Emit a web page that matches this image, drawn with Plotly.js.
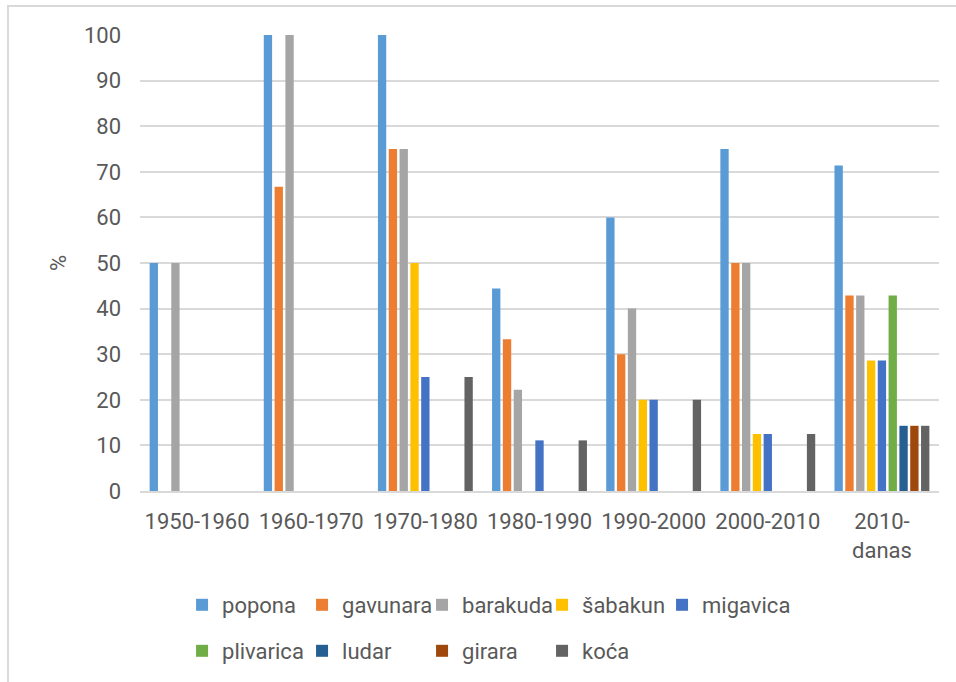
<!DOCTYPE html>
<html>
<head>
<meta charset="utf-8">
<script src="https://cdn.plot.ly/plotly-3.0.1.min.js"></script>
<style>
  html, body { margin: 0; padding: 0; background: #fff; overflow: hidden; }
  #frame { position: absolute; left: 7px; top: 5px; width: 1200px; height: 1200px;
           border: 2px solid #d9d9d9; box-sizing: border-box; pointer-events: none; }
  #chart { position: absolute; left: 0; top: 0; width: 956px; height: 682px; }
</style>
</head>
<body>
<div id="chart"></div>
<div id="frame"></div>
<script>
// categories (decades)
const categories = ["1950-1960", "1960-1970", "1970-1980", "1980-1990", "1990-2000", "2000-2010", "2010-<br>danas"];

// series values (%), null = no bar
const popona    = [50, 100, 100, 44.4, 60, 75, 71.4];
const gavunara  = [null, 66.7, 75, 33.3, 30, 50, 42.9];
const barakuda  = [50, 100, 75, 22.2, 40, 50, 42.9];
const sabakun   = [null, null, 50, null, 20, 12.5, 28.6];
const migavica  = [null, null, 25, 11.1, 20, 12.5, 28.6];
const plivarica = [null, null, null, null, null, null, 42.9];
const ludar     = [null, null, null, null, null, null, 14.3];
const girara    = [null, null, null, null, null, null, 14.3];
const koca      = [null, null, 25, 11.1, 20, 12.5, 14.3];

const seriesNames = ["popona", "gavunara", "barakuda", "šabakun", "migavica", "plivarica", "ludar", "girara", "koća"];
const seriesValues = [popona, gavunara, barakuda, sabakun, migavica, plivarica, ludar, girara, koca];
const seriesColors = ["#5B9BD5", "#ED7D31", "#A5A5A5", "#FFC000", "#4472C4", "#70AD47", "#255E91", "#9E480E", "#636363"];

const yTicks = [0, 10, 20, 30, 40, 50, 60, 70, 80, 90, 100];

const FONT = "Roboto, 'Open Sans', sans-serif";
const TXT = "#595959";

const traces = seriesNames.map((name, i) => ({
  type: "bar",
  name: name,
  x: categories,
  y: seriesValues[i],
  marker: { color: seriesColors[i], line: { width: 0 } },
  legend: i < 5 ? "legend" : "legend2",
  hoverinfo: "x+y+name"
}));

// invisible spacer legend entry so the first legend row is not clipped
traces.push({
  type: "bar", name: " ", x: [categories[0]], y: [0],
  visible: "legendonly",
  marker: { color: "rgba(0,0,0,0)", line: { width: 0 } },
  legend: "legend", hoverinfo: "skip"
});

const legendCommon = {
  orientation: "h",
  font: { family: FONT, size: 22, color: TXT },
  bgcolor: "rgba(0,0,0,0)",
  entrywidth: 75,
  entrywidthmode: "pixels",
  itemwidth: 30,
  xanchor: "left",
  yanchor: "middle",
  traceorder: "normal"
};

const layout = {
  width: 956,
  height: 682,
  margin: { l: 140, r: 17, t: 35, b: 190 },
  paper_bgcolor: "rgba(0,0,0,0)",
  plot_bgcolor: "#ffffff",
  font: { family: FONT, size: 22, color: TXT },
  showlegend: true,
  barmode: "group",
  bargap: 0.147,
  bargroupgap: 0.23,
  xaxis: {
    type: "category",
    showgrid: false,
    showline: true,
    linecolor: "#d9d9d9",
    linewidth: 2,
    ticks: "",
    tickfont: { family: FONT, size: 22, color: TXT },
    ticklabelstandoff: 10,
    automargin: false
  },
  yaxis: {
    range: [0, 100],
    tickvals: yTicks,
    ticktext: yTicks.map(String),
    showgrid: true,
    gridcolor: "#d9d9d9",
    gridwidth: 2,
    zeroline: false,
    showline: false,
    ticks: "",
    tickfont: { family: FONT, size: 22, color: TXT },
    ticklabelstandoff: 18,
    automargin: false,
    title: { text: "%", font: { family: FONT, size: 22, color: TXT }, standoff: 11 }
  },
  legend: Object.assign({}, legendCommon, { x: (182 - 140) / 798, y: (492 - 605) / 457 }),
  legend2: Object.assign({}, legendCommon, { x: (182 - 140) / 798, y: (492 - 651) / 457 })
};

Plotly.newPlot("chart", traces, layout, { displayModeBar: false, staticPlot: true });
</script>
</body>
</html>
